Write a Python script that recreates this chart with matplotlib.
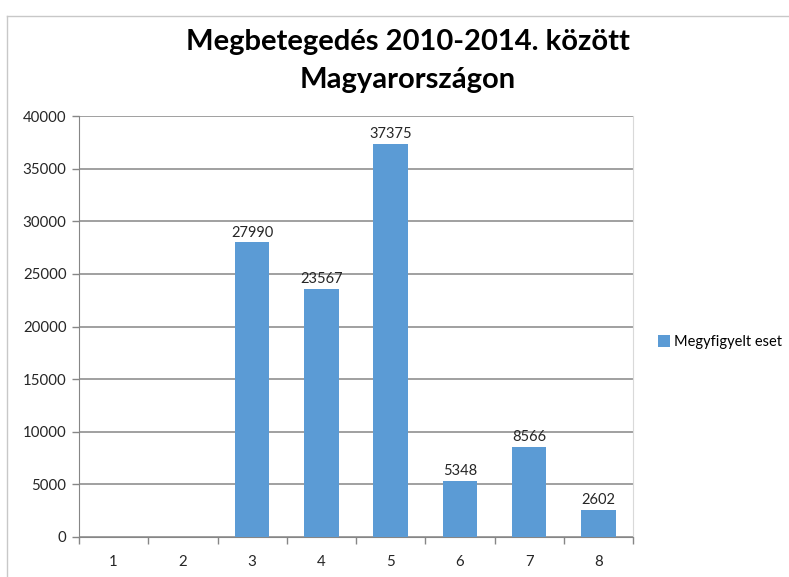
import numpy as np
import matplotlib.pyplot as plt
from matplotlib.lines import Line2D

categories = ['1', '2', '3', '4', '5', '6', '7', '8']
cases = [0, 0, 27990, 23567, 37375, 5348, 8566, 2602]
series_name = 'Megyfigyelt eset'
title = 'Megbetegedés 2010-2014. között\nMagyarországon'

bar_color = '#5B9BD5'
grid_color = '#868686'

plt.rcParams['font.family'] = ['Lato', 'DejaVu Sans']

fig = plt.figure(figsize=(7.89, 5.77), dpi=100)
ax = fig.add_axes([79 / 789, 1 - 537 / 577, (633 - 79) / 789, (537 - 116) / 577])

x = np.arange(len(categories))
bars = ax.bar(x, cases, width=0.5, color=bar_color, label=series_name, zorder=3)
for xi, v in zip(x, cases):
    if v > 0:
        ax.text(xi, v + 250, str(v), ha='center', va='bottom', fontsize=10.5,
                color='#262626', zorder=4)

ax.set_xlim(-0.5, len(categories) - 0.5)
ax.set_ylim(0, 40000)
ax.set_yticks(np.arange(0, 40001, 5000))
ax.yaxis.grid(True, color=grid_color, linewidth=1.1, zorder=0)
ax.tick_params(axis='y', length=5, width=1, color=grid_color, labelsize=10.8,
               labelcolor='#262626', pad=4)

# category boundaries as tick marks, labels centred
ax.set_xticks(np.arange(-0.5, len(categories), 1))
ax.set_xticklabels([])
ax.set_xticks(x, minor=True)
ax.set_xticklabels(categories, minor=True, fontsize=10.8, color='#262626')
ax.tick_params(axis='x', which='major', length=5, width=1, color=grid_color)
ax.tick_params(axis='x', which='minor', length=0, pad=13)

ax.spines['top'].set_visible(False)
ax.spines['right'].set_color('#d9d9d9')
ax.spines['left'].set_color(grid_color)
ax.spines['bottom'].set_color(grid_color)

fig.text(408 / 789, 1 - 61 / 577, title, ha='center', va='center',
         fontsize=21, fontweight='bold', color='black', linespacing=1.55)

fig.legend(handles=[bars], labels=[series_name], loc='center left',
           bbox_to_anchor=(645 / 789, 1 - 342 / 577), frameon=False,
           fontsize=10.5, handlelength=0.8, handleheight=0.8, handletextpad=0.3)

# outer chart border (top and left only visible)
fig.add_artist(Line2D([7 / 789, 1], [1 - 16 / 577, 1 - 16 / 577],
                      color='#c8c8c8', linewidth=1, transform=fig.transFigure))
fig.add_artist(Line2D([7 / 789, 7 / 789], [0, 1 - 16 / 577],
                      color='#c8c8c8', linewidth=1, transform=fig.transFigure))

fig.savefig('out.png', dpi=100)
